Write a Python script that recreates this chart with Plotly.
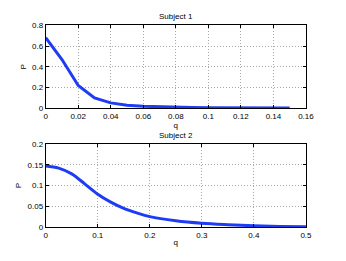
import plotly.graph_objects as go

q1 = [0.0, 0.01, 0.02, 0.03, 0.04, 0.05, 0.06, 0.07, 0.08, 0.09, 0.10, 0.11, 0.12, 0.13, 0.14, 0.15]
p1 = [0.68, 0.47, 0.22, 0.10, 0.052, 0.030, 0.019, 0.013, 0.009, 0.007, 0.006, 0.005, 0.004, 0.0035, 0.003, 0.0025]

q2 = [0.0, 0.025, 0.05, 0.075, 0.1, 0.125, 0.15, 0.175, 0.2, 0.25, 0.3, 0.35, 0.4, 0.45, 0.5]
p2 = [0.147, 0.142, 0.128, 0.104, 0.079, 0.060, 0.045, 0.034, 0.025, 0.015, 0.009, 0.0055, 0.003, 0.0015, 0.0005]

titles = ["Subject 1", "Subject 2"]
x1_ticks = [0, 0.02, 0.04, 0.06, 0.08, 0.1, 0.12, 0.14, 0.16]
x1_text = ["0", "0.02", "0.04", "0.06", "0.08", "0.1", "0.12", "0.14", "0.16"]
y1_ticks = [0, 0.2, 0.4, 0.6, 0.8]
y1_text = ["0", "0.2", "0.4", "0.6", "0.8"]
x2_ticks = [0, 0.1, 0.2, 0.3, 0.4, 0.5]
x2_text = ["0", "0.1", "0.2", "0.3", "0.4", "0.5"]
y2_ticks = [0, 0.05, 0.1, 0.15, 0.2]
y2_text = ["0", "0.05", "0.1", "0.15", "0.2"]

W, H = 346, 261
xd = [45 / W, 313 / W]
yd1 = [1 - 108 / H, 1 - 22 / H]
yd2 = [1 - 231 / H, 1 - 145 / H]

line_color = "#1f3cf5"
fnt = dict(family="Liberation Sans, Arial, sans-serif", size=8, color="#000")

fig = go.Figure()
fig.add_trace(go.Scatter(x=q1, y=p1, mode="lines", line=dict(color=line_color, width=3),
                         xaxis="x", yaxis="y", showlegend=False))
fig.add_trace(go.Scatter(x=q2, y=p2, mode="lines", line=dict(color=line_color, width=3, shape="spline"),
                         xaxis="x2", yaxis="y2", showlegend=False))

ax_common = dict(showline=True, linecolor="#000", linewidth=1, mirror="allticks",
                 ticks="inside", ticklen=3, tickcolor="#000",
                 showgrid=True, gridcolor="#a8a8a8", griddash="1px,2px", gridwidth=1,
                 zeroline=False, tickfont=fnt)

fig.update_layout(
    width=W, height=H,
    margin=dict(l=0, r=0, t=0, b=0),
    paper_bgcolor="white", plot_bgcolor="white",
    font=fnt,
    xaxis=dict(domain=xd, anchor="y", range=[0, 0.16], tickvals=x1_ticks, ticktext=x1_text,
               title=dict(text="q", font=fnt, standoff=0), **ax_common),
    yaxis=dict(domain=yd1, anchor="x", range=[0, 0.8], tickvals=y1_ticks, ticktext=y1_text,
               title=dict(text="P", font=fnt, standoff=4), **ax_common),
    xaxis2=dict(domain=xd, anchor="y2", range=[0, 0.5], tickvals=x2_ticks, ticktext=x2_text,
                title=dict(text="q", font=fnt, standoff=0), **ax_common),
    yaxis2=dict(domain=yd2, anchor="x2", range=[0, 0.2], tickvals=y2_ticks, ticktext=y2_text,
                title=dict(text="P", font=fnt, standoff=4), **ax_common),
    annotations=[
        dict(text=titles[0], x=(xd[0] + xd[1]) / 2, y=yd1[1], xref="paper", yref="paper",
             xanchor="center", yanchor="bottom", yshift=2, showarrow=False, font=fnt),
        dict(text=titles[1], x=(xd[0] + xd[1]) / 2, y=yd2[1], xref="paper", yref="paper",
             xanchor="center", yanchor="bottom", yshift=2, showarrow=False, font=fnt),
    ],
)

fig.write_html(
    "out.html",
    config={"displayModeBar": False},
    post_script="document.body.style.margin='0';document.body.style.overflow='hidden';",
)
